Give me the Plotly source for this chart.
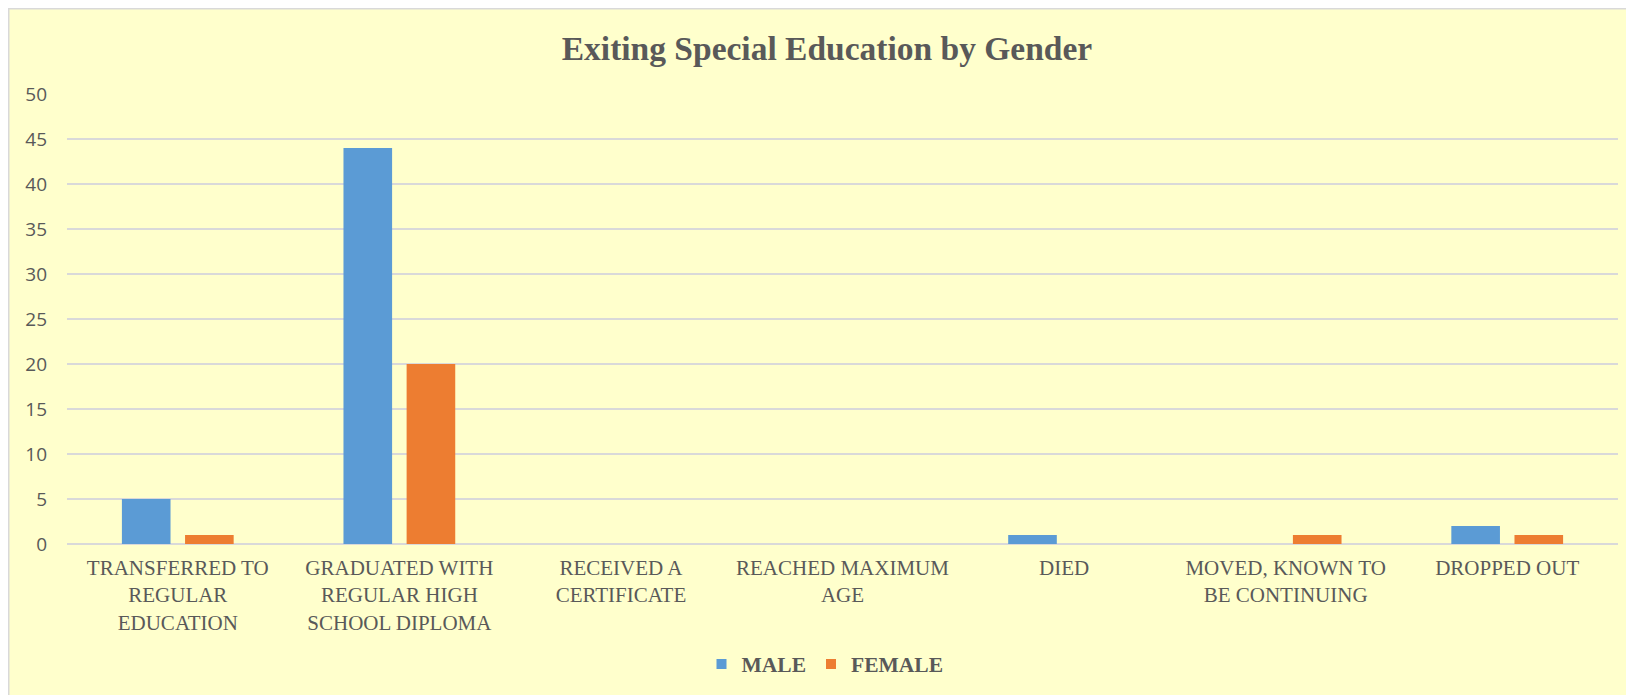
import plotly.graph_objects as go

categories = [
    "TRANSFERRED TO<br>REGULAR<br>EDUCATION",
    "GRADUATED WITH<br>REGULAR HIGH<br>SCHOOL DIPLOMA",
    "RECEIVED A<br>CERTIFICATE",
    "REACHED MAXIMUM<br>AGE",
    "DIED",
    "MOVED, KNOWN TO<br>BE CONTINUING",
    "DROPPED OUT",
]
male = [5, 44, 0, 0, 1, 0, 2]
female = [1, 20, 0, 0, 0, 1, 1]
y_ticks = [0, 5, 10, 15, 20, 25, 30, 35, 40, 45, 50]

MALE_COLOR = "#5B9BD5"
FEMALE_COLOR = "#ED7D31"
TEXT_COLOR = "#595959"
GRID_COLOR = "#D9D9D9"

W, H = 1634, 695
L, R, T, B = 59, 24, 86, 159
pw = W - L - R
ph = H - T - B

def px_x(px):
    return (px - L) / pw

def px_y(py):
    return (H - B - py) / ph

fig = go.Figure()
fig.add_trace(go.Bar(name="MALE", x=categories, y=male, marker_color=MALE_COLOR,
                     marker_line_width=0, showlegend=False))
fig.add_trace(go.Bar(name="FEMALE", x=categories, y=female, marker_color=FEMALE_COLOR,
                     marker_line_width=0, showlegend=False))
# legend entries with small square keys
fig.add_trace(go.Scatter(name="<b>MALE</b>", x=[None], y=[None], mode="markers",
                         marker=dict(symbol="square", size=10, color=MALE_COLOR)))
fig.add_trace(go.Scatter(name="<b>FEMALE</b>", x=[None], y=[None], mode="markers",
                         marker=dict(symbol="square", size=10, color=FEMALE_COLOR)))

fig.update_layout(
    width=W, height=H,
    margin=dict(l=L, r=R, t=T, b=B),
    paper_bgcolor="#FFFFCC",
    plot_bgcolor="rgba(0,0,0,0)",
    barmode="group",
    bargap=0.43,
    bargroupgap=0.23,
    title=dict(
        text="<b>Exiting Special Education by Gender</b>",
        font=dict(family="Liberation Serif", size=33.5, color=TEXT_COLOR),
        x=819 / W, xref="container", xanchor="center",
        y=1 - 40 / H, yref="container", yanchor="middle",
    ),
    legend=dict(
        orientation="h",
        x=px_x(817), y=px_y(656), xanchor="center", yanchor="middle",
        font=dict(family="Liberation Serif", size=21.5, color=TEXT_COLOR),
        bgcolor="rgba(0,0,0,0)",
        itemwidth=30,
        tracegroupgap=0,
    ),
    shapes=[
        dict(
            type="line", xref="paper", yref="paper",
            x0=px_x(0.75), x1=px_x(0.75), y0=px_y(0), y1=px_y(H + 5),
            line=dict(color=GRID_COLOR, width=1.5),
        ),
        dict(
            type="line", xref="paper", yref="paper",
            x0=px_x(0), x1=px_x(W + 5), y0=px_y(0.75), y1=px_y(0.75),
            line=dict(color=GRID_COLOR, width=1.5),
        ),
    ],
)

fig.update_xaxes(
    tickfont=dict(family="Liberation Serif", size=21, color=TEXT_COLOR),
    showgrid=False, showline=False, ticks="", ticklabelstandoff=9,
)
fig.update_yaxes(
    range=[0, 50],
    tickvals=y_ticks,
    tickfont=dict(family="Open Sans", size=19, color=TEXT_COLOR),
    showgrid=True, gridcolor=GRID_COLOR, gridwidth=1.5,
    zeroline=True, zerolinecolor=GRID_COLOR, zerolinewidth=1.5,
    ticks="", ticklabelstandoff=19,
)

fig.write_html("out.html")
